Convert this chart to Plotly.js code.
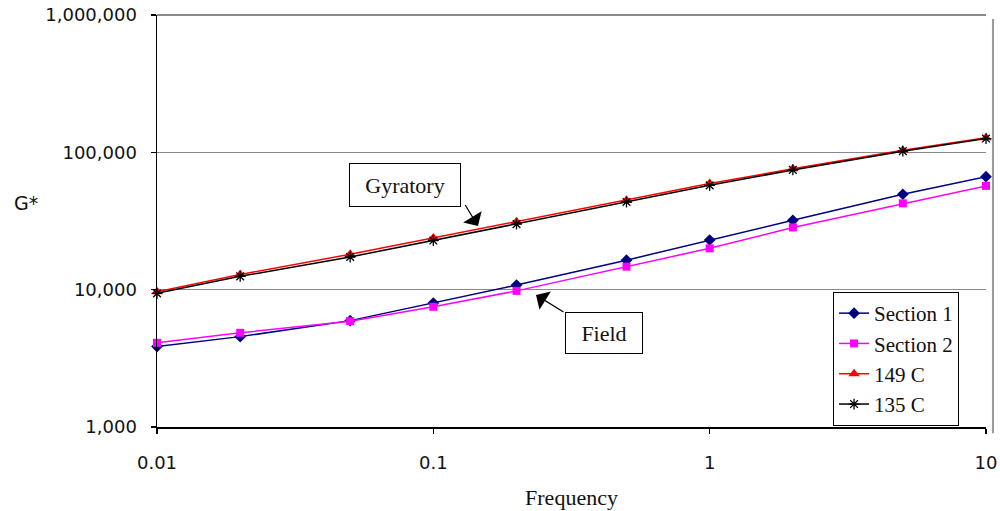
<!DOCTYPE html>
<html>
<head>
<meta charset="utf-8">
<script src="https://cdn.plot.ly/plotly-3.0.1.min.js"></script>
<style>html,body{margin:0;padding:0;background:#fff;}#chart{width:1000px;height:511px;}</style>
</head>
<body>
<div id="chart"></div>
<script>
// Data
const frequency = [0.01, 0.02, 0.05, 0.1, 0.2, 0.5, 1, 2, 5, 10];
const section1 = [3850, 4550, 5950, 8000, 10800, 16400, 23000, 32000, 49500, 66500];
const section2 = [4100, 4850, 5900, 7500, 9800, 14700, 20000, 28400, 42500, 57000];
const temp149 = [9650, 12900, 18100, 23800, 31200, 44800, 59300, 75800, 103500, 127500];
const temp135 = [9400, 12500, 17300, 22800, 30000, 43500, 57500, 74500, 102000, 126000];

const seriesNames = ['Section 1', 'Section 2', '149 C', '135 C'];
const xTickVals = [0.01, 0.1, 1, 10];
const xTickText = ['0.01', '0.1', '1', '10'];
const yTickVals = [1000, 10000, 100000, 1000000];
const yTickText = ['1,000', '10,000', '100,000', '1,000,000'];

const serif = 'Liberation Serif, Times New Roman, serif';
const sans = 'DejaVu Sans, Verdana, sans-serif';

const traces = [
  {x: frequency, y: section1, name: seriesNames[0], legendgroup: 'a', legendrank: 1, mode: 'lines+markers',
   line: {color: '#000080', width: 1.5}, marker: {symbol: 'diamond', size: 9, color: '#000080'}, cliponaxis: false},
  {x: frequency, y: section2, name: seriesNames[1], legendgroup: 'b', legendrank: 2, mode: 'lines+markers',
   line: {color: '#FF00FF', width: 1.5}, marker: {symbol: 'square', size: 8, color: '#FF00FF'}, cliponaxis: false},
  {x: frequency, y: temp149, name: seriesNames[2], legendgroup: 'c', legendrank: 3, mode: 'lines+markers',
   line: {color: '#FF0000', width: 1.5}, marker: {symbol: 'triangle-up', size: 10, color: '#FF0000'}, cliponaxis: false},
  {x: frequency, y: temp135, name: seriesNames[3], legendgroup: 'd', legendrank: 4, mode: 'lines+markers',
   line: {color: '#000000', width: 1.5}, marker: {symbol: 'asterisk-open', size: 9, color: '#000000', line: {color: '#000000', width: 1.3}}, cliponaxis: false}
];

const layout = {
  width: 1000, height: 511,
  margin: {l: 157, r: 14, t: 15, b: 84},
  paper_bgcolor: '#fff', plot_bgcolor: '#fff',
  font: {family: sans, size: 18, color: '#111'},
  showlegend: true,
  legend: {
    x: 0.8155, y: 0.3277, xanchor: 'left', yanchor: 'top',
    bordercolor: '#000', borderwidth: 1, bgcolor: '#fff',
    font: {family: serif, size: 21, color: '#111'},
    tracegroupgap: 0, traceorder: 'grouped'
  },
  xaxis: {
    type: 'log', range: [-2, 1],
    tickvals: xTickVals, ticktext: xTickText,
    showgrid: false, zeroline: false,
    showline: true, linecolor: '#000', linewidth: 1.5,
    ticks: 'outside', ticklen: 5, tickcolor: '#000', tickwidth: 1.5,
    ticklabelstandoff: 14,
    tickfont: {family: sans, size: 18, color: '#111'},
    title: {text: 'Frequency', font: {family: serif, size: 22, color: '#111'}, standoff: 17}
  },
  yaxis: {
    type: 'log', range: [3, 6],
    tickvals: yTickVals, ticktext: yTickText,
    showgrid: true, gridcolor: '#8a8a8a', gridwidth: 1.5,
    zeroline: false,
    showline: true, linecolor: '#000', linewidth: 1.5,
    ticks: 'outside', ticklen: 5, tickcolor: '#000', tickwidth: 1.5,
    ticklabelstandoff: 10,
    tickfont: {family: sans, size: 18, color: '#111'}
  },
  shapes: [
    {type: 'line', xref: 'paper', yref: 'paper', x0: 0, x1: 1.0, y0: 1.0, y1: 1.0, line: {color: '#8a8a8a', width: 2}},
    {type: 'line', xref: 'paper', yref: 'paper', x0: 1.0084, x1: 1.0084, y0: 0.99, y1: -0.015, line: {color: '#999', width: 2}}
  ],
  annotations: [
    {xref: 'paper', yref: 'paper', x: -0.158, y: 0.5437, xanchor: 'center', yanchor: 'middle', text: 'G*', showarrow: false,
     font: {family: sans, size: 19, color: '#111'}},
    {xref: 'paper', yref: 'paper', x: 0.2992, y: 0.5874, xanchor: 'center', yanchor: 'middle', text: 'Gyratory', showarrow: false,
     font: {family: serif, size: 22, color: '#111'}, bordercolor: '#000', borderwidth: 1,
     bgcolor: '#fff', width: 108, height: 40, borderpad: 1},
    {xref: 'paper', yref: 'paper', x: 0.5392, y: 0.2282, xanchor: 'center', yanchor: 'middle', text: 'Field', showarrow: false,
     font: {family: serif, size: 22, color: '#111'}, bordercolor: '#000', borderwidth: 1,
     bgcolor: '#fff', width: 74, height: 38, borderpad: 1},
    {xref: 'paper', yref: 'paper', x: 0.3872, y: 0.4879, text: ' ', font: {size: 1},
     showarrow: true, arrowhead: 1, arrowsize: 3, arrowwidth: 1.2, arrowcolor: '#000', ax: -14, ay: -23, standoff: 0},
    {xref: 'paper', yref: 'paper', x: 0.4572, y: 0.3204, text: ' ', font: {size: 1},
     showarrow: true, arrowhead: 1, arrowsize: 3, arrowwidth: 1.2, arrowcolor: '#000', ax: 29, ay: 18, standoff: 0}
  ]
};

Plotly.newPlot('chart', traces, layout, {displayModeBar: false, staticPlot: true});
</script>
</body>
</html>
